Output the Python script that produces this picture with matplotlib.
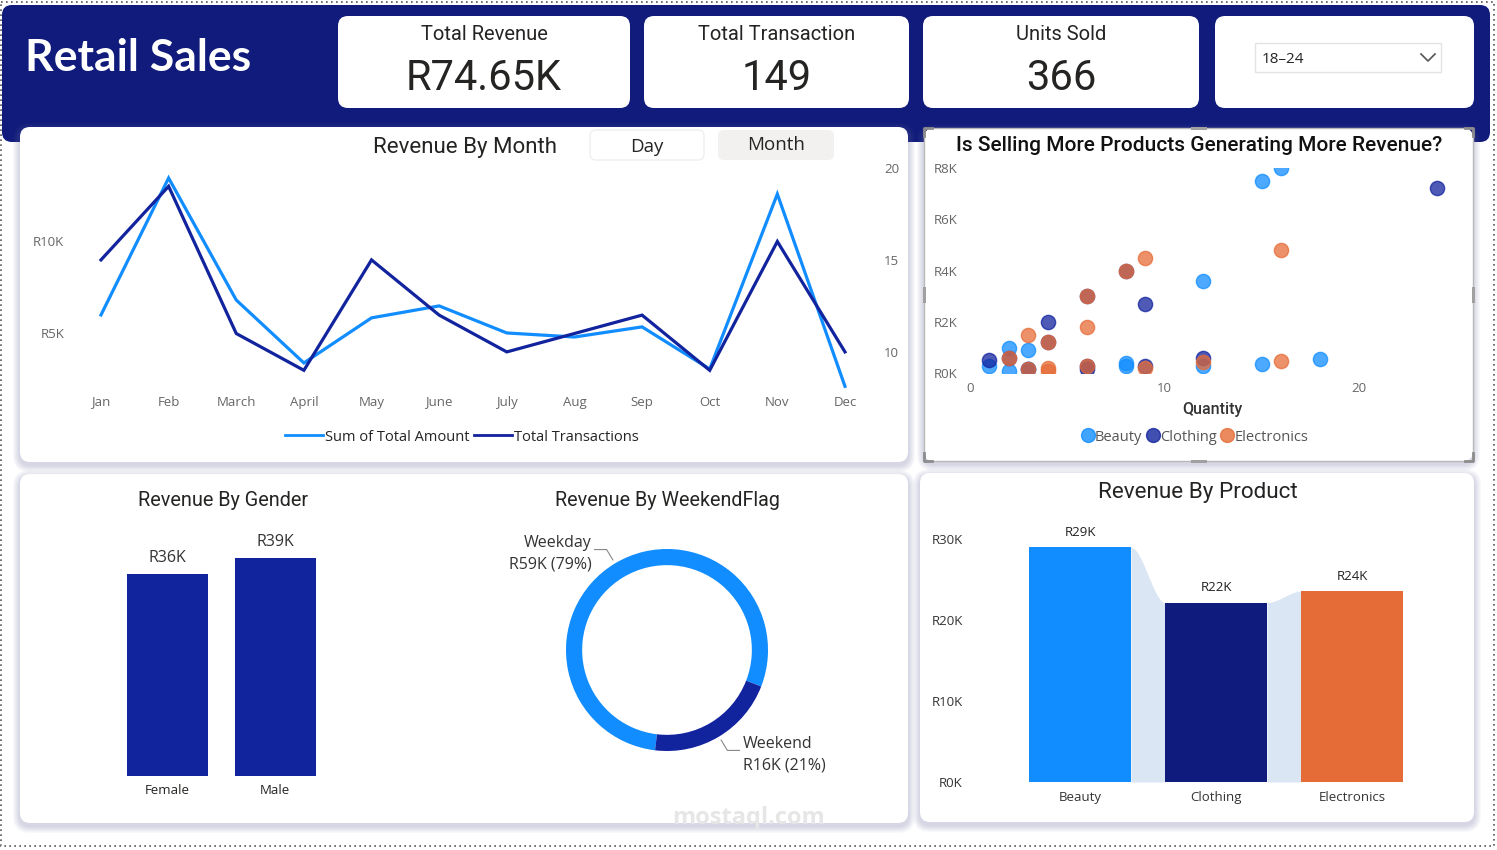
import numpy as np
import matplotlib
matplotlib.use('Agg')
import matplotlib.pyplot as plt
from matplotlib.patches import FancyBboxPatch, Rectangle
from matplotlib.lines import Line2D

# ---- data ----
kpi_titles = ['Total Revenue', 'Total Transaction', 'Units Sold']
kpi_values = ['R74.65K', '149', '366']
age_filter = '18–24'

months = ['Jan', 'Feb', 'March', 'April', 'May', 'June', 'July', 'Aug',
          'Sep', 'Oct', 'Nov', 'Dec']
month_revenue = [5980, 13420, 6790, 3370, 5820, 6470, 5000, 4780, 5330,
                 3040, 12550, 2100]
month_transactions = [15, 19, 11, 9, 15, 12, 10, 11, 12, 9, 16, 10]

beauty_qty = [1, 2, 2, 3, 3, 8, 8, 12, 12, 15, 15, 16, 18]
beauty_rev = [300, 1000, 100, 900, 150, 400, 300, 3600, 300, 7500, 375, 8000, 540]
clothing_qty = [1, 2, 3, 4, 4, 6, 6, 6, 8, 9, 9, 12, 24]
clothing_rev = [500, 600, 150, 2000, 1200, 3000, 300, 150, 4000, 2700, 270, 600, 7200]
electronics_qty = [2, 3, 3, 4, 4, 4, 6, 6, 6, 8, 9, 9, 12, 16, 16]
electronics_rev = [600, 1500, 150, 1200, 200, 100, 3000, 1800, 300, 4000, 4500,
                   225, 430, 4800, 480]

genders = ['Female', 'Male']
gender_revenue = [35900, 38750]

weekend_flags = ['Weekday', 'Weekend']
weekend_revenue = [58970, 15680]

products = ['Beauty', 'Clothing', 'Electronics']
product_revenue = [28950, 22150, 23550]

BLUE = '#118DFF'
NAVY = '#12239E'
DARKNAVY = '#0f1b7d'
ORANGE = '#E66C37'
HEADER = '#101b7b'
TXT = '#252423'
GREY = '#666666'

W, H = 1497, 850
TITLE_FONT = 'Roboto'
LABEL_FONT = 'Open Sans'
plt.rcParams['font.family'] = [LABEL_FONT, 'DejaVu Sans']


def kfmt(v):
    return 'R{:.0f}K'.format(v / 1000)


fig = plt.figure(figsize=(W / 100, H / 100), dpi=100)
fig.patch.set_facecolor('white')
bg = fig.add_axes([0, 0, 1, 1])
bg.set_xlim(0, W)
bg.set_ylim(H, 0)
bg.axis('off')


def px_axes(x0, y0, x1, y1):
    a = fig.add_axes([x0 / W, 1 - y1 / H, (x1 - x0) / W, (y1 - y0) / H])
    a.set_facecolor('none')
    return a


def rbox(x0, y0, x1, y1, fc, r=10, ec='none', lw=0, alpha=1, z=1):
    p = FancyBboxPatch((x0 + r, y0 + r), x1 - x0 - 2 * r, y1 - y0 - 2 * r,
                       boxstyle='round,pad={},rounding_size={}'.format(r, r),
                       fc=fc, ec=ec, lw=lw, alpha=alpha, zorder=z)
    bg.add_patch(p)


def panel(x0, y0, x1, y1):
    for k in range(7, 0, -1):
        rbox(x0 - k, y0 - k + 3, x1 + k, y1 + k + 3, '#6e6ea6', r=10 + k,
             alpha=0.045, z=1)
    rbox(x0, y0, x1, y1, 'white', r=10, z=2)


def btext(x, y, s, size, color=TXT, ha='center', va='center', family=None,
          weight='normal'):
    bg.text(x, y, s, fontsize=size, color=color, ha=ha, va=va,
            family=family or LABEL_FONT, weight=weight, zorder=5)


# page border and header band
bg.add_patch(Rectangle((1, 2), W - 4, H - 6, fill=False, ec='#555555',
                       lw=1.2, ls=(0, (1, 2)), zorder=0.5))
rbox(2, 5, 1490, 142, HEADER, r=10, z=1)
btext(25, 58, 'Retail Sales', 32, color='white', ha='left', family='Lato',
      weight='bold')

# KPI cards
cards = [(338, 630), (644, 909), (923, 1199)]
for (x0, x1), t, v in zip(cards, kpi_titles, kpi_values):
    rbox(x0, 16, x1, 108, 'white', r=10, z=2)
    btext((x0 + x1) / 2, 34, t, 14.5, family=TITLE_FONT)
    btext((x0 + x1) / 2, 78, v, 30, family=TITLE_FONT)

# slicer card
rbox(1215, 16, 1474, 108, 'white', r=10, z=2)
bg.add_patch(Rectangle((1255, 43), 186, 29, fc='white', ec='#e3e3e3', lw=1,
                       zorder=3))
btext(1262, 59, age_filter, 11, ha='left')
bg.plot([1421, 1428, 1435], [54, 61, 54], color='#555555', lw=1.2, zorder=5)

# panels
panel(20, 127, 908, 462)
panel(924, 128, 1473, 461)
panel(20, 474, 908, 823)
panel(920, 473, 1474, 822)

# ---------- Revenue By Month ----------
btext(465, 147, 'Revenue By Month', 16, family=TITLE_FONT)
rbox(590, 130, 704, 160, 'white', r=6, ec='#efefef', lw=1, z=3)
btext(647, 147, 'Day', 13.5)
rbox(718, 130, 834, 160, '#f2f1f0', r=6, z=3)
btext(776, 145, 'Month', 13.5)

x = np.arange(len(months))
ax = px_axes(70, 160, 870, 390)
ax.plot(x, month_revenue, color=BLUE, lw=2.3, solid_joinstyle='miter')
ax2 = ax.twinx()
ax2.set_facecolor('none')
ax2.plot(x, month_transactions, color=NAVY, lw=2.3, solid_joinstyle='miter')
ax.set_xlim(-0.458, 11.37)
ax.set_ylim(1900, 14400)
ax2.set_ylim(7.93, 20.43)
ax.set_xticks(x, months)
ax.set_yticks([5000, 10000], [kfmt(v) for v in [5000, 10000]])
ax2.set_yticks([10, 15, 20])
ax.tick_params(axis='x', length=0, pad=4, labelsize=9.5, labelcolor=GREY)
ax.tick_params(axis='y', length=0, pad=4, labelsize=9.5, labelcolor=GREY)
ax2.tick_params(axis='y', length=0, pad=10, labelsize=9.5, labelcolor=GREY)
for a in (ax, ax2):
    for s in a.spines.values():
        s.set_visible(False)
fig.legend(handles=[Line2D([], [], color=BLUE, lw=2),
                    Line2D([], [], color=NAVY, lw=2)],
           labels=['Sum of Total Amount', 'Total Transactions'],
           loc='center', bbox_to_anchor=(462 / W, 1 - 437 / H), ncol=2,
           frameon=False, fontsize=10.5, handlelength=2.6, handletextpad=0.15,
           columnspacing=0.3, labelcolor=TXT)

# ---------- scatter ----------
bg.add_patch(Rectangle((924, 128), 549, 333, fill=False, ec='#b8b8b8', lw=1,
                       zorder=4))
for cx, cy, dx, dy in [(924, 128, 1, 1), (1473, 128, -1, 1),
                       (924, 461, 1, -1), (1473, 461, -1, -1)]:
    bg.plot([cx + 8 * dx, cx, cx], [cy, cy, cy + 8 * dy], color='#8c8c8c',
            lw=2, zorder=5)
for mx, my, w, h in [(1198.5, 128, 16, 3), (1198.5, 461, 16, 3),
                     (924, 294.5, 3, 16), (1473, 294.5, 3, 16)]:
    bg.add_patch(Rectangle((mx - w / 2, my - h / 2), w, h, fc='#a0a0a0',
                           ec='none', zorder=5))
btext(1199, 145, 'Is Selling More Products Generating More Revenue?', 15,
      color='#111111', family=TITLE_FONT, weight='medium')

sx = px_axes(970, 167.7, 1462, 373.3)
for q, r, c in [(beauty_qty, beauty_rev, BLUE),
                (clothing_qty, clothing_rev, NAVY),
                (electronics_qty, electronics_rev, ORANGE)]:
    sx.scatter(q, r, s=105, color=c, alpha=0.75, edgecolors=c,
               linewidths=1, zorder=3)
sx.set_xlim(0, 25.3)
sx.set_ylim(0, 8000)
sx.set_xticks([0, 10, 20])
sx.set_yticks([0, 2000, 4000, 6000, 8000],
              [kfmt(v) for v in [0, 2000, 4000, 6000, 8000]])
sx.tick_params(length=0, labelsize=9.5, labelcolor=GREY)
sx.tick_params(axis='y', pad=9)
sx.tick_params(axis='x', pad=6)
for s in sx.spines.values():
    s.set_visible(False)
btext(1212, 409, 'Quantity', 11.5, color='#333333', family=TITLE_FONT,
      weight='medium')
fig.legend(handles=[Line2D([], [], ls='none', marker='o', ms=10, color=c,
                           alpha=0.8) for c in (BLUE, NAVY, ORANGE)],
           labels=products, loc='center',
           bbox_to_anchor=(1195 / W, 1 - 437 / H), ncol=3, frameon=False,
           fontsize=10.5, handlelength=0.8, handletextpad=0.1,
           columnspacing=0.3, labelcolor='#555555')

# ---------- Revenue By Gender ----------
btext(223, 500, 'Revenue By Gender', 14.3, family=TITLE_FONT)
gx = px_axes(103, 520, 340, 776)
gbars = gx.bar(range(len(genders)), gender_revenue, width=0.755, color=NAVY)
for b, v in zip(gbars, gender_revenue):
    gx.annotate(kfmt(v), (b.get_x() + b.get_width() / 2, v),
                xytext=(0, 6), textcoords='offset points', ha='center',
                va='bottom', fontsize=11.5, color='#333333')
gx.set_xlim(-0.6, 1.6)
gx.set_ylim(0, 45500)
gx.set_xticks(range(len(genders)), genders)
gx.set_yticks([])
gx.tick_params(length=0, pad=6, labelsize=9.5, labelcolor=TXT)
for s in gx.spines.values():
    s.set_visible(False)

# ---------- Revenue By WeekendFlag ----------
btext(667, 500, 'Revenue By WeekendFlag', 14.2, family=TITLE_FONT)
dx_ = px_axes(537, 520, 797, 780)
start = -96.8
dx_.pie(weekend_revenue, colors=[BLUE, NAVY], startangle=start,
        counterclock=False, radius=1,
        wedgeprops=dict(width=0.16, edgecolor='none'))
dx_.set_xlim(-1.287, 1.287)
dx_.set_ylim(-1.287, 1.287)
dx_.set_aspect('equal')
dx_.axis('off')
fracs = np.array(weekend_revenue) / sum(weekend_revenue)
edge = start
for i, (lab, v, f) in enumerate(zip(weekend_flags, weekend_revenue, fracs)):
    mid = np.radians(edge - f * 180)
    edge -= f * 360
    p0 = np.array([np.cos(mid), np.sin(mid)]) * 1.04
    p1 = np.array([np.cos(mid), np.sin(mid)]) * 1.16
    side = 1 if np.cos(mid) > 0 else -1
    p2 = p1 + np.array([0.12 * side, 0])
    dx_.plot([p0[0], p1[0], p2[0]], [p0[1], p1[1], p2[1]], color='#888888',
             lw=0.8)
    dx_.text(p2[0] + 0.03 * side, p2[1] - 0.04,
             '{}\n{} ({:.0f}%)'.format(lab, kfmt(v), f * 100),
             ha='left' if side > 0 else 'right', va='center', fontsize=11.5,
             color='#333333', linespacing=1.45)

bg.text(748, 818, 'mostaql.com', fontsize=17, color='#e6e6e6', ha='center',
        va='center', weight='bold', zorder=6)

# ---------- Revenue By Product ----------
btext(1198, 492, 'Revenue By Product', 16.2, family=TITLE_FONT)
px_ = px_axes(978, 530, 1454, 782)
bw = 0.75
for i in range(len(product_revenue) - 1):
    xs = np.linspace(i + bw / 2, i + 1 - bw / 2, 60)
    t = (xs - xs[0]) / (xs[-1] - xs[0])
    ys = product_revenue[i] + (product_revenue[i + 1] - product_revenue[i]) * t * t * (3 - 2 * t)
    px_.fill_between(xs, 0, ys, color='#dbe6f5', lw=0)
pbars = px_.bar(range(len(products)), product_revenue, width=bw,
                color=[BLUE, DARKNAVY, ORANGE])
for b, v in zip(pbars, product_revenue):
    px_.annotate(kfmt(v), (b.get_x() + b.get_width() / 2, v),
                 xytext=(0, 6), textcoords='offset points', ha='center',
                 va='bottom', fontsize=9.5, color='#222222')
px_.set_xlim(-0.75, 2.75)
px_.set_ylim(0, 31100)
px_.set_xticks(range(len(products)), products)
px_.set_yticks([0, 10000, 20000, 30000],
               [kfmt(v) for v in [0, 10000, 20000, 30000]])
px_.tick_params(length=0, labelsize=9.5, labelcolor='#333333')
px_.tick_params(axis='y', pad=11)
px_.tick_params(axis='x', pad=6.5)
for s in px_.spines.values():
    s.set_visible(False)

fig.savefig('out.png', dpi=100)
